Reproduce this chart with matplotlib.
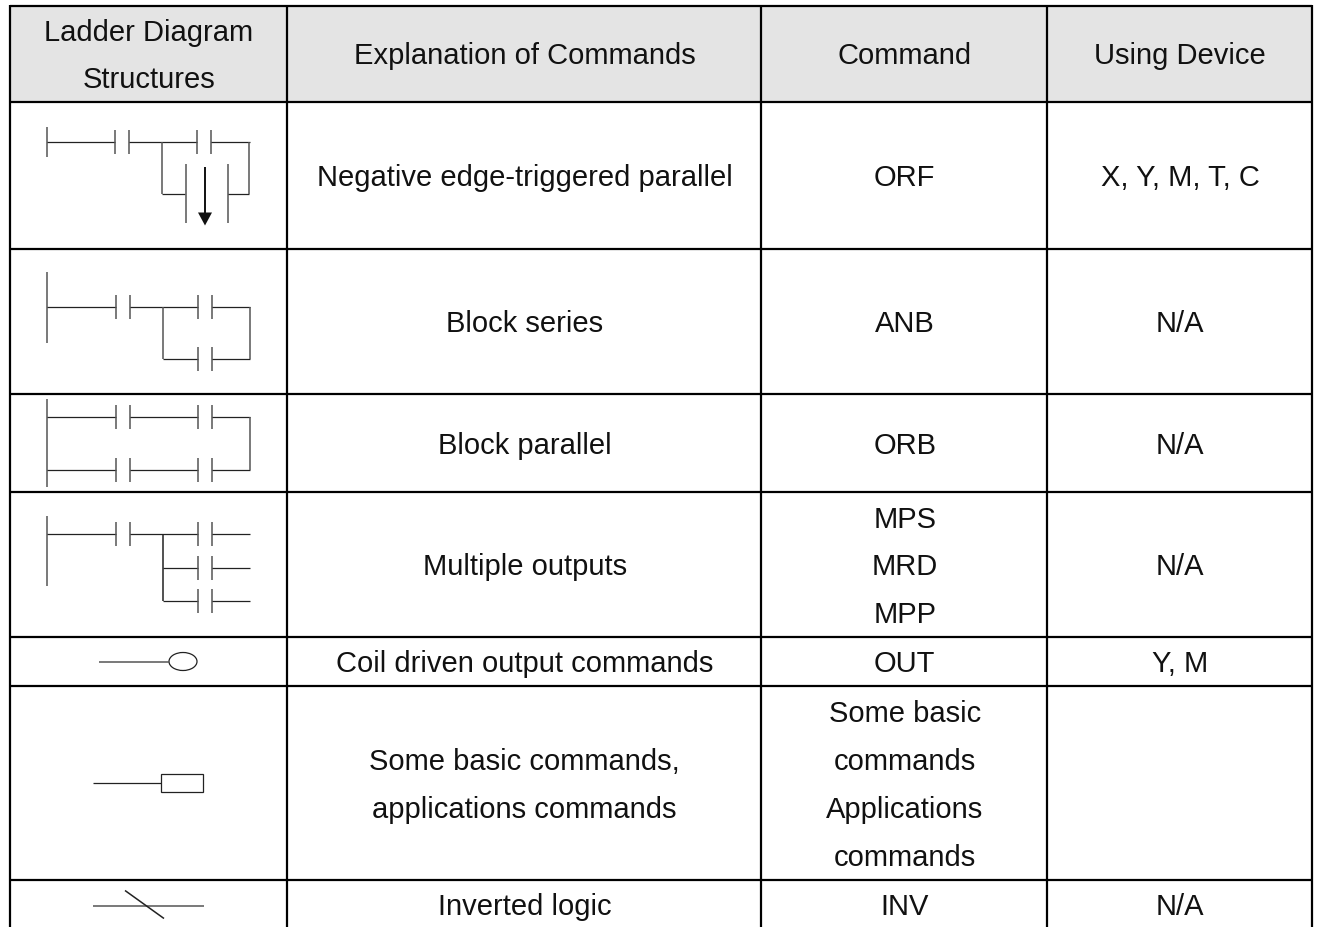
import matplotlib
matplotlib.use("Agg")
import matplotlib.pyplot as plt
from matplotlib.patches import Ellipse, Rectangle, Polygon

plt.rcParams['font.family'] = ['Liberation Sans', 'DejaVu Sans']

W, H = 1317, 928
FS = 21
GREY = '#555555'
DARK = '#222222'
TXT = '#111111'

# table grid
col_edges = [9.5, 287, 761, 1047, 1312]
row_edges = [6, 102, 249, 394, 492, 637, 686, 880, 928]

# cell text
headers = ['Ladder Diagram\nStructures', 'Explanation of Commands', 'Command', 'Using Device']
explanations = ['Negative edge-triggered parallel', 'Block series', 'Block parallel',
                'Multiple outputs', 'Coil driven output commands',
                'Some basic commands,\napplications commands', 'Inverted logic']
commands = ['ORF', 'ANB', 'ORB', 'MPS\nMRD\nMPP', 'OUT',
            'Some basic\ncommands\nApplications\ncommands', 'INV']
devices = ['X, Y, M, T, C', 'N/A', 'N/A', 'N/A', 'Y, M', '', 'N/A']

fig = plt.figure(figsize=(W / 100, H / 100), dpi=100)
ax = fig.add_axes([0, 0, 1, 1])
ax.set_xlim(0, W)
ax.set_ylim(H - 0.5, -0.5)
ax.axis('off')


def seg(x0, y0, x1, y1, c=GREY, lw=1.1):
    ax.plot([x0, x1], [y0, y1], color=c, lw=lw, solid_capstyle='butt')


def contact(x, y):
    # pair of short bars, 14 px apart
    seg(x, y - 12, x, y + 12)
    seg(x + 14, y - 12, x + 14, y + 12)


def rung_to(x0, x1, y):
    seg(x0, y, x1, y, DARK, 0.9)


# header shading goes under the grid
ax.add_patch(Rectangle((col_edges[0], row_edges[0]), col_edges[-1] - col_edges[0],
                       row_edges[1] - row_edges[0], fc='#e4e4e4', ec='none'))

for x in col_edges:
    seg(x, row_edges[0] - 1, x, row_edges[-1], 'black', 1.6)
for y in row_edges[:-1]:
    seg(col_edges[0], y, col_edges[-1], y, 'black', 1.6)

centers_x = [(col_edges[i] + col_edges[i + 1]) / 2 + 0.7 for i in range(4)]
for x, t in zip(centers_x, headers):
    ax.text(x, (row_edges[0] + row_edges[1]) / 2 + 2, t, ha='center', va='center',
            fontsize=FS, color=TXT, linespacing=1.9)
for i in range(7):
    yc = (row_edges[i + 1] + row_edges[i + 2]) / 2 + 2.5
    for x, t in zip(centers_x[1:], [explanations[i], commands[i], devices[i]]):
        ax.text(x, yc, t, ha='center', va='center', fontsize=FS, color=TXT, linespacing=1.9)

# row 1: negative edge parallel
seg(47, 127, 47, 157)
rung_to(47, 115, 142)
contact(115, 142)
rung_to(129, 197, 142)
contact(197, 142)
rung_to(211, 250, 142)
seg(162, 142, 162, 194)
rung_to(162, 185, 194)
seg(186, 164, 186, 223)
seg(228, 164, 228, 223)
rung_to(228, 249, 194)
seg(249, 142, 249, 194)
seg(205, 167, 205, 216, TXT, 1.4)
ax.add_patch(Polygon([[198, 213], [212, 213], [205, 226]], closed=True, fc=TXT, ec='none'))

# row 2: block series
seg(47, 272, 47, 343)
rung_to(47, 116, 307)
contact(116, 307)
rung_to(130, 198, 307)
contact(198, 307)
rung_to(212, 250, 307)
seg(163, 307, 163, 359)
rung_to(163, 198, 359)
contact(198, 359)
rung_to(212, 250, 359)
seg(250, 307, 250, 359)

# row 3: block parallel
seg(47, 399, 47, 487)
rung_to(47, 116, 417)
contact(116, 417)
rung_to(130, 198, 417)
contact(198, 417)
rung_to(212, 250, 417)
rung_to(47, 116, 470)
contact(116, 470)
rung_to(130, 198, 470)
contact(198, 470)
rung_to(212, 250, 470)
seg(250, 417, 250, 470)

# row 4: multiple outputs
seg(47, 516, 47, 586)
rung_to(47, 116, 534)
contact(116, 534)
rung_to(130, 198, 534)
contact(198, 534)
rung_to(212, 250, 534)
seg(163, 534, 163, 601, DARK)
rung_to(163, 198, 568)
contact(198, 568)
rung_to(212, 250, 568)
rung_to(163, 198, 601)
contact(198, 601)
rung_to(212, 250, 601)

# row 5: coil
seg(99, 662, 169, 662)
ax.add_patch(Ellipse((183, 662), 28, 18, fc='white', ec=DARK, lw=0.9))

# row 6: function box
rung_to(93, 161, 783)
ax.add_patch(Rectangle((161, 774), 42, 18, fc='white', ec=DARK, lw=0.9))

# row 7: inverted logic
seg(93, 906, 204, 906)
seg(125, 891, 164, 919, DARK)

fig.savefig('out.png', dpi=100)
